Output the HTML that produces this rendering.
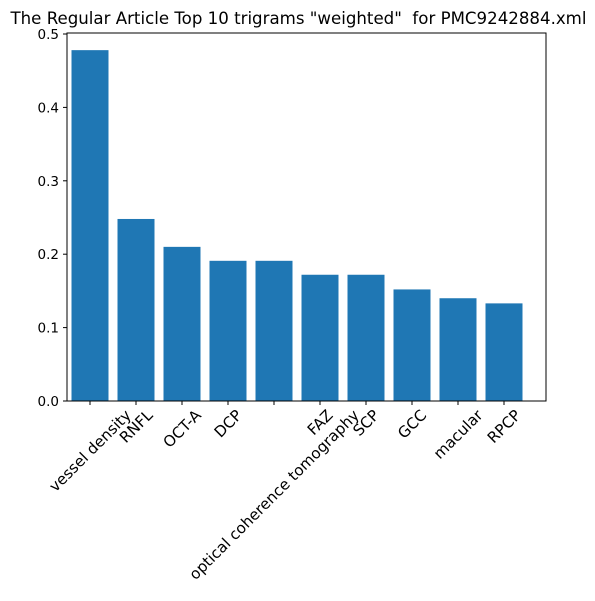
<!DOCTYPE html>
<html><head><meta charset="utf-8"><style>
body{margin:0;background:#fff;}
svg{display:block;font-family:"DejaVu Sans","Liberation Sans",sans-serif;}
</style></head><body>
<svg id="chart" width="595" height="601">
<text x="298.5" y="24" font-size="16.5" text-anchor="middle" textLength="576" lengthAdjust="spacingAndGlyphs" xml:space="preserve">The Regular Article Top 10 trigrams "weighted"&#160; for PMC9242884.xml</text>
<g id="bars"></g><g id="yticks"></g><g id="xticks"></g>
<rect x="67" y="33" width="479" height="368" fill="none" stroke="#000" stroke-width="1"/>
</svg>
<script>
const categories=["vessel density","RNFL","OCT-A","DCP","optical coherence tomography","FAZ","SCP","GCC","macular","RPCP"];
const values=[0.478,0.248,0.210,0.191,0.191,0.172,0.172,0.152,0.140,0.133];
const yTicks=[0,0.1,0.2,0.3,0.4,0.5];
const yTickLabels=["0.0","0.1","0.2","0.3","0.4","0.5"];
const NS="http://www.w3.org/2000/svg";
const y=v=>401-v*734;
const x=i=>90+i*46;
const bw=37;
const bars=document.getElementById('bars'),yt=document.getElementById('yticks'),xt=document.getElementById('xticks');
values.forEach((v,i)=>{
 const r=document.createElementNS(NS,'rect');
 r.setAttribute('x',x(i)-bw/2);r.setAttribute('y',y(v));r.setAttribute('width',bw);r.setAttribute('height',401-y(v));r.setAttribute('fill','#1f77b4');
 
 
 bars.appendChild(r);
});
yTicks.forEach((t,i)=>{
 const l=document.createElementNS(NS,'line');
 l.setAttribute('x1',63);l.setAttribute('x2',67);l.setAttribute('y1',y(t));l.setAttribute('y2',y(t));l.setAttribute('stroke','#000');
 
 
 yt.appendChild(l);
 const tx=document.createElementNS(NS,'text');
 tx.setAttribute('x',59);tx.setAttribute('y',y(t)+5);tx.setAttribute('font-size','13.5');tx.setAttribute('text-anchor','end');
 tx.textContent=yTickLabels[i];
 
 
 yt.appendChild(tx);
});
categories.forEach((c,i)=>{
 const l=document.createElementNS(NS,'line');
 l.setAttribute('x1',x(i));l.setAttribute('x2',x(i));l.setAttribute('y1',401);l.setAttribute('y2',405);l.setAttribute('stroke','#000');
 
 
 xt.appendChild(l);
 const tx=document.createElementNS(NS,'text');
 const fs=15.2;
 tx.setAttribute('font-size',fs);tx.setAttribute('text-anchor','middle');
 tx.textContent=c;
 
 
 xt.appendChild(tx);
 const w=tx.getComputedTextLength(),h=fs;
 const bh=(w+h)*0.7071;
 const cy=407+bh/2;
 tx.setAttribute('x',x(i));tx.setAttribute('y',cy+fs*0.35);
 tx.setAttribute('transform','rotate(-45 '+x(i)+' '+cy+')');
});
</script>
</body></html>
